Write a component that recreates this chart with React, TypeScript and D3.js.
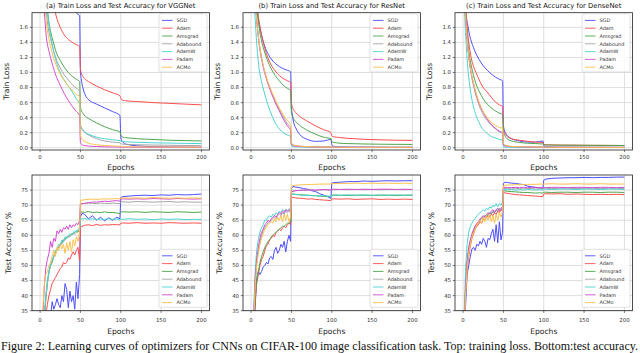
import React from 'react';
import * as d3 from 'd3';

const optimizers = ['SGD', 'Adam', 'Amsgrad', 'Adabound', 'AdamW', 'Padam', 'ACMo'];
const colors = ['#4d4dff', '#ff4d4d', '#4da64d', '#a6a6a6', '#4dd2d2', '#d24dd2', '#ffc04d'];
const nets = ['VGGNet', 'ResNet', 'DenseNet'];
const letters = ['(a)', '(b)', '(c)'];
const epochTicks = [0, 50, 100, 150, 200];
const lossTicks = [0, 0.2, 0.4, 0.6, 0.8, 1.0, 1.2, 1.4, 1.6];
const accTicks = [35, 40, 45, 50, 55, 60, 65, 70, 75];

const epochsLoss = [0, 2, 4, 6, 8, 10, 13, 16, 20, 25, 30, 35, 40, 45, 49, 50, 51, 53, 56, 60, 70, 80, 90, 99, 100, 101, 103, 106, 110, 120, 140, 160, 180, 200];
const epochsAcc = [1, 3, 5, 7, 9, 11, 13, 15, 17, 19, 21, 23, 25, 27, 29, 31, 33, 35, 37, 39, 41, 43, 45, 47, 49, 50, 52, 55, 60, 65, 70, 75, 80, 85, 90, 95, 99, 100, 102, 110, 120, 130, 140, 150, 160, 170, 180, 190, 200];

// train loss, one row per optimizer (same order as `optimizers`)
const vggLoss = [
  [4.6, 4.4, 4.2, 4.0, 3.8, 3.6, 3.3, 3.0, 2.7, 2.4, 2.2, 2.0, 1.9, 1.79, 1.76, 1.02, 0.92, 0.8, 0.7, 0.64, 0.58, 0.53, 0.48, 0.43, 0.15, 0.1, 0.07, 0.05, 0.04, 0.025, 0.015, 0.01, 0.008, 0.006],
  [4.0, 3.6, 3.2, 2.9, 2.6, 2.4, 2.15, 1.95, 1.75, 1.6, 1.5, 1.44, 1.4, 1.37, 1.35, 1.05, 1.0, 0.95, 0.91, 0.88, 0.82, 0.77, 0.73, 0.69, 0.66, 0.64, 0.63, 0.625, 0.62, 0.615, 0.6, 0.59, 0.58, 0.57],
  [4.2, 3.5, 2.9, 2.4, 2.0, 1.75, 1.55, 1.42, 1.27, 1.16, 1.07, 1.0, 0.95, 0.91, 0.88, 0.55, 0.5, 0.46, 0.42, 0.39, 0.33, 0.28, 0.24, 0.21, 0.17, 0.15, 0.14, 0.135, 0.13, 0.12, 0.11, 0.1, 0.095, 0.09],
  [3.8, 3.1, 2.5, 2.05, 1.78, 1.6, 1.45, 1.32, 1.18, 1.06, 0.97, 0.9, 0.84, 0.79, 0.75, 0.32, 0.28, 0.24, 0.2, 0.17, 0.12, 0.09, 0.075, 0.065, 0.055, 0.05, 0.047, 0.045, 0.043, 0.04, 0.036, 0.033, 0.03, 0.028],
  [4.0, 3.4, 2.8, 2.3, 1.95, 1.72, 1.5, 1.32, 1.15, 1.0, 0.9, 0.82, 0.74, 0.65, 0.58, 0.3, 0.26, 0.23, 0.2, 0.18, 0.14, 0.12, 0.105, 0.095, 0.088, 0.085, 0.082, 0.08, 0.077, 0.072, 0.066, 0.062, 0.058, 0.055],
  [3.5, 2.6, 2.0, 1.7, 1.45, 1.33, 1.2, 1.08, 0.95, 0.83, 0.72, 0.63, 0.55, 0.48, 0.43, 0.07, 0.05, 0.035, 0.028, 0.022, 0.016, 0.012, 0.01, 0.009, 0.008, 0.008, 0.008, 0.007, 0.007, 0.007, 0.006, 0.006, 0.006, 0.006],
  [3.6, 2.9, 2.3, 1.9, 1.65, 1.5, 1.35, 1.22, 1.1, 0.98, 0.89, 0.82, 0.76, 0.71, 0.68, 0.17, 0.13, 0.1, 0.08, 0.06, 0.04, 0.03, 0.024, 0.02, 0.017, 0.015, 0.014, 0.013, 0.012, 0.011, 0.01, 0.009, 0.008, 0.008],
];
const resLoss = [
  [4.5, 3.6, 2.8, 2.2, 1.8, 1.65, 1.5, 1.38, 1.27, 1.18, 1.12, 1.08, 1.05, 1.03, 1.01, 0.55, 0.45, 0.33, 0.25, 0.18, 0.11, 0.085, 0.09, 0.11, 0.04, 0.025, 0.018, 0.014, 0.012, 0.01, 0.008, 0.007, 0.006, 0.006],
  [4.5, 3.5, 2.7, 2.15, 1.85, 1.68, 1.5, 1.36, 1.22, 1.1, 1.02, 0.96, 0.92, 0.89, 0.87, 0.6, 0.55, 0.5, 0.46, 0.42, 0.35, 0.29, 0.24, 0.2, 0.16, 0.15, 0.145, 0.14, 0.135, 0.125, 0.112, 0.105, 0.1, 0.098],
  [4.5, 3.5, 2.7, 2.1, 1.8, 1.6, 1.42, 1.3, 1.17, 1.05, 0.96, 0.89, 0.83, 0.79, 0.76, 0.47, 0.43, 0.38, 0.34, 0.3, 0.23, 0.18, 0.14, 0.12, 0.08, 0.075, 0.07, 0.065, 0.06, 0.055, 0.05, 0.047, 0.045, 0.044],
  [3.8, 2.9, 2.25, 1.85, 1.58, 1.4, 1.2, 1.05, 0.9, 0.75, 0.62, 0.51, 0.41, 0.32, 0.26, 0.06, 0.045, 0.035, 0.028, 0.022, 0.016, 0.013, 0.011, 0.01, 0.008, 0.008, 0.007, 0.007, 0.007, 0.006, 0.006, 0.006, 0.006, 0.006],
  [3.5, 2.6, 1.95, 1.55, 1.25, 1.05, 0.88, 0.75, 0.6, 0.45, 0.33, 0.25, 0.2, 0.17, 0.15, 0.03, 0.02, 0.015, 0.012, 0.01, 0.008, 0.007, 0.006, 0.006, 0.005, 0.005, 0.005, 0.005, 0.005, 0.005, 0.005, 0.005, 0.005, 0.005],
  [3.8, 2.9, 2.25, 1.85, 1.58, 1.38, 1.18, 1.03, 0.88, 0.73, 0.6, 0.49, 0.38, 0.29, 0.23, 0.05, 0.035, 0.025, 0.02, 0.016, 0.012, 0.01, 0.009, 0.008, 0.007, 0.007, 0.007, 0.006, 0.006, 0.006, 0.006, 0.005, 0.005, 0.005],
  [3.8, 2.9, 2.25, 1.85, 1.58, 1.4, 1.2, 1.05, 0.9, 0.76, 0.64, 0.53, 0.44, 0.36, 0.31, 0.07, 0.05, 0.035, 0.027, 0.021, 0.015, 0.012, 0.01, 0.009, 0.008, 0.008, 0.007, 0.007, 0.007, 0.006, 0.006, 0.006, 0.006, 0.006],
];
const denseLoss = [
  [3.0, 2.0, 1.75, 1.62, 1.5, 1.42, 1.33, 1.25, 1.17, 1.09, 1.03, 0.98, 0.94, 0.91, 0.89, 0.3, 0.24, 0.19, 0.15, 0.12, 0.09, 0.075, 0.075, 0.09, 0.03, 0.02, 0.015, 0.012, 0.01, 0.008, 0.007, 0.006, 0.006, 0.005],
  [3.0, 2.1, 1.75, 1.5, 1.33, 1.2, 1.08, 1.0, 0.9, 0.8, 0.74, 0.67, 0.61, 0.57, 0.55, 0.25, 0.21, 0.17, 0.14, 0.12, 0.1, 0.085, 0.075, 0.07, 0.045, 0.042, 0.04, 0.04, 0.038, 0.036, 0.034, 0.032, 0.031, 0.03],
  [3.0, 2.05, 1.65, 1.4, 1.22, 1.1, 0.96, 0.85, 0.75, 0.65, 0.58, 0.53, 0.49, 0.46, 0.44, 0.22, 0.18, 0.14, 0.11, 0.09, 0.07, 0.06, 0.055, 0.05, 0.04, 0.038, 0.037, 0.036, 0.035, 0.034, 0.033, 0.032, 0.031, 0.03],
  [3.0, 2.0, 1.6, 1.32, 1.12, 0.98, 0.82, 0.69, 0.56, 0.44, 0.36, 0.3, 0.25, 0.21, 0.19, 0.04, 0.03, 0.022, 0.018, 0.015, 0.012, 0.01, 0.009, 0.008, 0.007, 0.007, 0.007, 0.006, 0.006, 0.006, 0.006, 0.005, 0.005, 0.005],
  [2.8, 1.8, 1.35, 1.05, 0.85, 0.7, 0.54, 0.43, 0.33, 0.24, 0.19, 0.15, 0.13, 0.11, 0.1, 0.015, 0.01, 0.008, 0.007, 0.006, 0.005, 0.005, 0.005, 0.005, 0.004, 0.004, 0.004, 0.004, 0.004, 0.004, 0.004, 0.004, 0.004, 0.004],
  [3.0, 2.0, 1.6, 1.33, 1.14, 1.0, 0.85, 0.72, 0.59, 0.47, 0.38, 0.31, 0.26, 0.22, 0.2, 0.04, 0.03, 0.022, 0.018, 0.015, 0.012, 0.01, 0.009, 0.008, 0.007, 0.007, 0.007, 0.006, 0.006, 0.006, 0.006, 0.005, 0.005, 0.005],
  [3.0, 2.0, 1.6, 1.33, 1.14, 1.0, 0.86, 0.73, 0.6, 0.48, 0.4, 0.34, 0.3, 0.27, 0.26, 0.06, 0.045, 0.03, 0.022, 0.018, 0.014, 0.012, 0.01, 0.009, 0.008, 0.008, 0.007, 0.007, 0.007, 0.006, 0.006, 0.006, 0.005, 0.005],
];

// test accuracy %, one row per optimizer
const vggAcc = [
  [20, 22, 24, 27, 29, 31, 33, 38, 35.5, 37, 39, 37, 36, 40, 38, 44, 42, 36, 41.5, 38, 40, 35.5, 44.5, 39, 47, 66, 67.3, 67, 65.5, 66.5, 65, 66, 64.8, 65.8, 65, 66, 65.5, 72.5, 72.8, 73, 73.2, 73.3, 73.2, 73.4, 73.3, 73.5, 73.4, 73.5, 73.7],
  [10, 16, 22, 33, 37, 40, 42, 44, 45, 46, 47, 48, 49, 49.5, 51, 50.5, 51, 52.5, 52, 53.5, 54.5, 53.5, 55, 56, 51.5, 62.5, 63, 63.3, 63.5, 63.2, 63.6, 63.3, 63.5, 63.4, 63.6, 63.5, 63.5, 64, 64.1, 64, 64.2, 64, 64.1, 64, 64.2, 64.1, 64, 64.1, 64],
  [18, 25, 31, 38, 44, 48, 50, 51, 53, 54, 55.5, 56, 57, 57.5, 58.5, 58.5, 59.5, 59.5, 60, 60.5, 60.5, 61, 61.5, 61, 62, 67.5, 67.8, 67.6, 67.9, 67.5, 67.7, 67.5, 67.8, 67.5, 67.6, 67.4, 67.2, 67.7, 67.8, 67.7, 67.8, 67.6, 67.8, 67.7, 67.6, 67.8, 67.7, 67.6, 67.7],
  [18, 25, 32, 39, 44, 47.5, 50, 51.5, 53, 54, 55, 56, 57, 57, 58, 58.5, 59, 59.5, 59.5, 60, 60.5, 60.5, 61, 61.5, 61.5, 70.5, 70.6, 70.5, 70.7, 70.6, 70.5, 70.7, 70.6, 70.5, 70.7, 70.6, 70.5, 71, 71.1, 71, 71.2, 71.1, 71, 71.1, 71.2, 71, 71.1, 71, 71],
  [18, 26, 33, 40, 45, 48, 50.5, 52, 53, 55, 55.5, 57, 57, 58.5, 58, 59.5, 59, 60, 60.5, 60, 61, 61.5, 61, 62, 62.5, 65.5, 65.4, 65.6, 65.3, 65.5, 65.2, 65.4, 65.3, 65.5, 65.3, 65.4, 65.2, 65.4, 65.3, 65.5, 65.3, 65.4, 65.2, 65.4, 65.3, 65.4, 65.2, 65.3, 65.3],
  [20, 30, 42, 49, 52, 54, 58, 56, 59, 58, 61.5, 60.5, 62, 61, 62.5, 62, 63, 62, 63.5, 62.5, 63.5, 63, 64, 63.5, 65, 70, 70.5, 70.6, 70.8, 71, 71, 71.2, 71.3, 71.2, 71.4, 71.5, 71.3, 72, 72.1, 72, 72.1, 72, 72.2, 72.1, 72, 72.2, 72.1, 72, 72.1],
  [22, 33, 43, 47, 48, 50, 51, 53, 55, 53, 56, 55, 57, 55.5, 57, 54, 57.5, 55, 58, 54.5, 58.5, 56.5, 59.5, 58, 61, 71.5, 71.7, 71.8, 71.9, 72, 71.9, 72, 72.1, 72, 72.1, 72.2, 72, 72.3, 72.4, 72.3, 72.4, 72.3, 72.5, 72.4, 72.3, 72.4, 72.3, 72.4, 72.3],
];
const resAcc = [
  [15, 25, 36, 46, 48, 47, 48, 49.5, 50, 51, 50.5, 52.5, 53, 52, 55, 56, 54, 55, 57, 56, 58, 54.5, 58, 60, 58, 75.5, 76.2, 76, 75.8, 75.5, 75.3, 74.8, 74.5, 73.8, 73.3, 72.8, 72.2, 77.3, 77.5, 77.6, 77.8, 77.8, 78, 77.9, 78, 78.1, 78, 78.1, 78.1],
  [14, 26, 38, 44, 47, 50, 52, 53, 55, 56.5, 57, 58.5, 59, 60, 59.5, 61, 61.5, 62, 61.5, 62.5, 63, 62.5, 63.5, 64, 63.5, 72.5, 72.6, 72.4, 72.3, 72.2, 72, 72.1, 71.9, 71.8, 71.7, 71.6, 71.5, 72, 72.1, 72, 72.1, 71.9, 72, 72.1, 71.9, 72, 71.9, 72, 71.9],
  [15, 27, 39, 45, 48, 51, 53, 54.5, 56, 57, 58, 58.5, 59.5, 60, 60.5, 61, 61.5, 62, 62.5, 63, 63, 63.5, 64, 64, 64.5, 73.5, 73.7, 73.6, 73.5, 73.4, 73.3, 73.2, 73.1, 73, 72.9, 72.9, 72.8, 73.2, 73.3, 73.3, 73.2, 73.3, 73.3, 73.2, 73.3, 73.3, 73.2, 73.3, 73.3],
  [17, 30, 44, 51, 55, 58, 60, 61.5, 62.5, 63.5, 64, 64.5, 65, 65.5, 66, 65.5, 66.5, 67, 66.5, 67.5, 67, 68, 67.5, 68, 67.5, 74.5, 74.7, 74.8, 74.9, 74.9, 75, 75, 74.9, 75, 75.1, 75, 74.9, 75.1, 75.1, 75.2, 75.1, 75.2, 75.1, 75.2, 75.1, 75.2, 75.2, 75.1, 75.2],
  [18, 33, 48, 55, 58.5, 61, 62.5, 63.5, 65, 65, 66, 66.5, 66, 67, 66.5, 67.5, 67, 68, 67.5, 68.5, 68, 68.5, 68.2, 68.8, 68.5, 73.8, 73.6, 73.5, 73.4, 73.2, 73.3, 73.1, 73.2, 73, 73.1, 73, 72.9, 73.3, 73.4, 73.3, 73.4, 73.3, 73.4, 73.3, 73.4, 73.3, 73.4, 73.3, 73.4],
  [17, 31, 45, 52, 56, 59, 61, 62, 63.5, 64, 65, 64.5, 65.5, 66, 66.5, 66, 67, 67.5, 67, 68, 67.5, 68.5, 68, 68.5, 68, 74.3, 74.6, 74.8, 74.9, 75, 75, 75.1, 75, 75.1, 75.2, 75.1, 75, 75.2, 75.3, 75.2, 75.3, 75.2, 75.3, 75.2, 75.3, 75.3, 75.2, 75.3, 75.2],
  [17, 30, 43, 50, 54, 57, 59, 60.5, 62, 62.5, 63.5, 64, 64.5, 64, 65.5, 64.5, 66, 65, 66.5, 64.5, 67, 65, 67, 64.5, 66, 76.3, 76.5, 76.6, 76.7, 76.8, 76.8, 76.9, 76.9, 77, 77, 77, 77, 77.1, 77.2, 77.2, 77.2, 77.3, 77.2, 77.3, 77.2, 77.3, 77.2, 77.3, 77.2],
];
const denseAcc = [
  [20, 36, 47, 50, 53, 55.5, 56, 55, 57, 56.5, 58, 57, 59, 58, 56, 59, 58.5, 60.5, 62, 58, 63.5, 57.5, 64.5, 58.5, 61, 77.2, 77.6, 77.5, 77.3, 77.2, 77, 76.8, 76.3, 76.1, 75.9, 75.7, 75.4, 78.3, 78.6, 78.9, 79, 79.1, 79.1, 79.2, 79.1, 79.2, 79.2, 79.3, 79.3],
  [22, 39, 48, 53, 56.5, 59, 60.5, 62, 63, 63.5, 64.5, 64, 65.5, 65, 66, 66.5, 66, 67, 66.5, 67.5, 67, 68, 67.5, 68.5, 68, 74, 74.1, 73.9, 73.7, 73.5, 73.4, 73.3, 73.2, 73.1, 73, 72.9, 72.8, 73.7, 73.8, 73.7, 73.8, 73.6, 73.7, 73.6, 73.5, 73.6, 73.5, 73.6, 73.5],
  [25, 42, 51, 55.5, 58, 60, 61.5, 63, 63.5, 64.5, 65, 65.5, 66, 66.5, 66, 67, 67.5, 67, 68, 67.5, 68.5, 68, 69, 68.5, 69, 74.8, 74.7, 74.6, 74.5, 74.4, 74.3, 74.2, 74.2, 74.1, 74, 74.1, 74, 74.3, 74.3, 74.2, 74.3, 74.3, 74.2, 74.3, 74.3, 74.2, 74.3, 74.3, 74.2],
  [24, 41, 50, 55, 58, 60, 61.5, 62.5, 63.5, 64, 65, 65.5, 66, 66, 66.5, 67, 67, 67.5, 67.5, 68, 68, 68.5, 68.5, 68.5, 69, 75.4, 75.5, 75.5, 75.4, 75.5, 75.5, 75.4, 75.5, 75.5, 75.4, 75.5, 75.4, 75.6, 75.6, 75.5, 75.6, 75.6, 75.5, 75.6, 75.6, 75.5, 75.6, 75.6, 75.5],
  [30, 48, 57, 61, 63, 64, 65, 65.5, 66.5, 67, 67.5, 68, 68.5, 68, 69, 68.5, 69.5, 69, 70, 69.5, 70.5, 69.5, 70.5, 70, 71, 75.3, 75.2, 75.1, 75.2, 75, 75.1, 75, 75.2, 75.1, 75, 75.1, 75, 75.3, 75.3, 75.2, 75.3, 75.3, 75.2, 75.3, 75.3, 75.2, 75.3, 75.3, 75.2],
  [25, 42, 51, 56, 58.5, 60.5, 62, 63, 64, 64.5, 65.5, 66, 66.5, 66, 67, 67.5, 67, 68, 68.5, 67.5, 68.5, 69, 68, 69, 69.5, 75.8, 75.9, 75.9, 75.8, 75.9, 75.8, 75.9, 75.8, 75.9, 75.9, 75.8, 75.9, 75.9, 75.8, 75.9, 75.9, 75.8, 75.9, 75.9, 75.8, 75.9, 75.9, 75.8, 75.9],
  [24, 40, 49, 54, 57, 59.5, 61, 62, 63.5, 64.5, 65, 64, 66, 64.5, 66.5, 65, 67, 64.5, 66.5, 64, 67, 65, 67.5, 66, 68, 76.5, 76.6, 76.7, 76.7, 76.8, 76.8, 76.8, 76.9, 76.9, 76.9, 77, 77, 77, 77, 77.1, 77, 77, 77.1, 77, 77, 77.1, 77, 77, 77],
];

const lossSets = [vggLoss, resLoss, denseLoss];
const accSets = [vggAcc, resAcc, denseAcc];

const width = 640;
const height = 353;
const panelLefts = [32, 243, 455];
const PW = 177.5;
const topRow = { top: 12.7, bottom: 150 };
const botRow = { top: 175, bottom: 310.7 };
const font = 'DejaVu Sans, sans-serif';

function Panel(props) {
  const { id, left, top, bottom, xs, series, yDomain, yTicks, fmt, ylabel, smooth, legendLow, title, tickGap, labelGap, ylabelGap } = props;
  const right = left + PW;
  const x = d3.scaleLinear().domain([-10, 210]).range([left, right]);
  const y = d3.scaleLinear().domain(yDomain).range([bottom, top]);
  const line = d3
    .line<number>()
    .x((d, i) => x(xs[i]))
    .y(d => y(d))
    .curve(smooth ? d3.curveMonotoneX : d3.curveLinear);

  const lgW = 48;
  const lgH = 58;
  const lgX = right - 2.5 - lgW;
  const lgY = legendLow ? bottom - 3.4 - lgH : top + 1.2;

  return (
    <g>
      <defs>
        <clipPath id={id}>
          <rect x={left} y={top} width={PW} height={bottom - top} />
        </clipPath>
      </defs>
      {/* grid */}
      {epochTicks.map(t => (
        <line key={'gx' + t} x1={x(t)} x2={x(t)} y1={top} y2={bottom} stroke="#d5d5d5" strokeWidth={0.8} />
      ))}
      {yTicks.map(t => (
        <line key={'gy' + t} x1={left} x2={right} y1={y(t)} y2={y(t)} stroke="#d5d5d5" strokeWidth={0.8} />
      ))}
      <g clipPath={`url(#${id})`}>
        {series.map((s, k) => (
          <path key={k} d={line(s)} fill="none" stroke={colors[k]} strokeWidth={1} strokeLinejoin="round" />
        ))}
      </g>
      <rect x={left} y={top} width={PW} height={bottom - top} fill="none" stroke="#222" strokeWidth={0.8} />
      {/* ticks */}
      {epochTicks.map(t => (
        <g key={'tx' + t}>
          <line x1={x(t)} x2={x(t)} y1={bottom} y2={bottom + 2.2} stroke="#222" strokeWidth={0.6} />
          <text x={x(t)} y={bottom + tickGap} textAnchor="middle" fontSize={5.4} fill="#333" fontFamily={font}>
            {t}
          </text>
        </g>
      ))}
      {yTicks.map(t => (
        <g key={'ty' + t}>
          <line x1={left - 2.2} x2={left} y1={y(t)} y2={y(t)} stroke="#222" strokeWidth={0.6} />
          <text x={left - 4} y={y(t) + 1.9} textAnchor="end" fontSize={5.4} fill="#333" fontFamily={font}>
            {fmt(t)}
          </text>
        </g>
      ))}
      <text x={(left + right) / 2} y={bottom + labelGap} textAnchor="middle" fontSize={7.6} fill="#222" fontFamily={font}>
        Epochs
      </text>
      <text
        transform={`translate(${left - ylabelGap},${(top + bottom) / 2}) rotate(-90)`}
        textAnchor="middle"
        fontSize={7.6}
        fill="#222"
        fontFamily={font}
      >
        {ylabel}
      </text>
      {title && (
        <text x={(left + right) / 2} y={7.6} textAnchor="middle" fontSize={6.8} fill="#111" fontFamily={font}>
          {title}
        </text>
      )}
      {/* legend */}
      <rect x={lgX} y={lgY} width={lgW} height={lgH} rx={1.5} fill="#fff" fillOpacity={0.85} stroke="#ccc" strokeWidth={0.6} />
      {optimizers.map((name, k) => {
        const ly = lgY + 6.5 + k * 7.8;
        return (
          <g key={name}>
            <line x1={lgX + 3} x2={lgX + 13.5} y1={ly} y2={ly} stroke={colors[k]} strokeWidth={0.9} />
            <text x={lgX + 17.5} y={ly + 1.7} fontSize={4.9} fill="#333" fontFamily={font}>
              {name}
            </text>
          </g>
        );
      })}
    </g>
  );
}

export default function App() {
  const fmtLoss = d3.format('.1f');
  const fmtAcc = d3.format('d');
  return (
    <svg width={width} height={height} style={{ position: 'absolute', left: 0, top: 0, background: '#fff' }}>
      <rect width={width} height={height} fill="#fff" />
      {panelLefts.map((left, i) => (
        <Panel
          key={'l' + i}
          id={'clipL' + i}
          left={left}
          top={topRow.top}
          bottom={topRow.bottom}
          xs={epochsLoss}
          series={lossSets[i]}
          yDomain={[-0.03, 1.795]}
          yTicks={lossTicks}
          fmt={fmtLoss}
          ylabel="Train Loss"
          smooth={true}
          legendLow={false}
          title={`${letters[i]} Train Loss and Test Accuracy for ${nets[i]}`}
          tickGap={8.8}
          labelGap={19.5}
          ylabelGap={23.5}
        />
      ))}
      {panelLefts.map((left, i) => (
        <Panel
          key={'a' + i}
          id={'clipA' + i}
          left={left}
          top={botRow.top}
          bottom={botRow.bottom}
          xs={epochsAcc}
          series={accSets[i]}
          yDomain={[35, 80]}
          yTicks={accTicks}
          fmt={fmtAcc}
          ylabel="Test Accuracy %"
          smooth={false}
          legendLow={true}
          tickGap={11.5}
          labelGap={23.3}
          ylabelGap={21.5}
        />
      ))}
      <text
        x={1}
        y={350}
        fontSize={12}
        fontFamily="Liberation Serif, serif"
        fill="#111"
        textLength={637}
        lengthAdjust="spacingAndGlyphs"
      >
        Figure 2: Learning curves of optimizers for CNNs on CIFAR-100 image classification task. Top: training loss. Bottom:test accuracy.
      </text>
    </svg>
  );
}
